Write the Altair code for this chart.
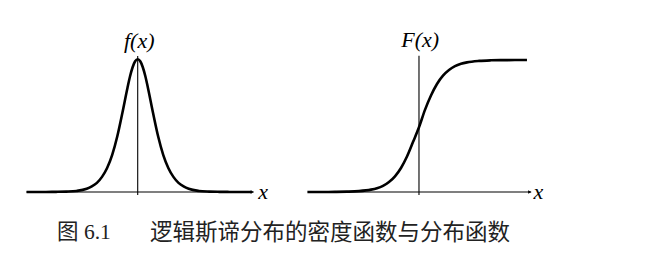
import altair as alt
import pandas as pd

# ---- data ----
pdf_x = [-10.9, -10, -9, -8, -7, -6, -5, -4.5, -4, -3.5, -3, -2.5, -2, -1.5, -1, -0.75, -0.5, -0.25,
         0, 0.25, 0.5, 0.75, 1, 1.5, 2, 2.5, 3, 3.5, 4, 4.5, 5, 6, 7, 8, 9, 10, 11.2]
pdf_y = [0.0001, 0.0002, 0.0005, 0.0012, 0.003, 0.008, 0.024, 0.042, 0.069, 0.114, 0.181, 0.280,
         0.420, 0.597, 0.786, 0.872, 0.940, 0.985,
         1.0, 0.985, 0.940, 0.872, 0.786, 0.597, 0.420, 0.280, 0.181, 0.114, 0.069, 0.042, 0.024,
         0.008, 0.003, 0.0012, 0.0005, 0.0002, 0.0001]

cdf_x = [-9.3, -8, -7, -6, -5, -4, -3.5, -3, -2.5, -2, -1.5, -1, -0.5, 0, 0.5, 1, 1.5, 2, 2.5, 3,
         3.5, 4, 5, 6, 7, 8, 9]
cdf_y = [0.0001, 0.0003, 0.0009, 0.0025, 0.0067, 0.018, 0.029, 0.047, 0.076, 0.119, 0.182, 0.269,
         0.378, 0.49, 0.622, 0.731, 0.818, 0.881, 0.924, 0.953, 0.971, 0.982, 0.993, 0.9975, 0.999,
         0.9997, 0.9999]

left_axis_x = [-10.9, 11.35]   # horizontal axis extent (left panel)
left_axis_v = [-0.023, 1.025]  # vertical axis extent (left panel)
right_axis_x = [-9.25, 9.35]
right_axis_v = [-0.023, 1.033]

left_labels = ["f(x)", "x"]
right_labels = ["F(x)", "x"]
caption_num = "图 6.1"
caption_text = "逻辑斯谛分布的密度函数与分布函数"

SERIF = "Liberation Serif"
CJK = "'Liberation Serif', 'Noto Sans CJK SC'"


def panel(xs, ys, ax_x, ax_v, labels, xdom, ydom, label_pos):
    xs_ = alt.Scale(domain=xdom, nice=False, zero=False)
    ys_ = alt.Scale(domain=ydom, nice=False, zero=False)
    X = lambda f: alt.X(f, type="quantitative", scale=xs_, axis=None)
    Y = lambda f: alt.Y(f, type="quantitative", scale=ys_, axis=None)

    curve = alt.Chart(pd.DataFrame({"x": xs, "y": ys})).mark_line(
        color="black", strokeWidth=2.6, interpolate="monotone"
    ).encode(x=X("x"), y=Y("y"))

    haxis = alt.Chart(pd.DataFrame({"x": [ax_x[0]], "x2": [ax_x[1]], "y": [0]})).mark_rule(
        color="black", strokeWidth=1.1
    ).encode(x=X("x"), x2="x2", y=Y("y"))

    vaxis = alt.Chart(pd.DataFrame({"x": [0], "y": [ax_v[0]], "y2": [ax_v[1]]})).mark_rule(
        color="black", strokeWidth=1.1
    ).encode(x=X("x"), y=Y("y"), y2="y2")

    arrow = alt.Chart(pd.DataFrame({"x": [ax_x[1] - 0.12], "y": [0]})).mark_point(
        shape="triangle-right", filled=True, color="black", size=14, opacity=1
    ).encode(x=X("x"), y=Y("y"))

    (fx, fy), (xx, xy) = label_pos
    lab_top = alt.Chart(pd.DataFrame({"x": [fx], "y": [fy], "t": [labels[0]]})).mark_text(
        font=SERIF, fontSize=22, fontStyle="italic", align="center", baseline="alphabetic",
        color="black"
    ).encode(x=X("x"), y=Y("y"), text="t:N")

    lab_x = alt.Chart(pd.DataFrame({"x": [xx], "y": [xy], "t": [labels[1]]})).mark_text(
        font=SERIF, fontSize=22, fontStyle="italic", align="center", baseline="middle",
        color="black"
    ).encode(x=X("x"), y=Y("y"), text="t:N")

    return alt.layer(haxis, vaxis, arrow, curve, lab_top, lab_x).properties(width=290, height=205)


left = panel(pdf_x, pdf_y, left_axis_x, left_axis_v, left_labels,
             [-13.5, 14.93], [-0.098, 1.447], ((0.15, 1.085), (12.3, 0.0)))
right = panel(cdf_x, cdf_y, right_axis_x, right_axis_v, right_labels,
              [-10.75, 13.42], [-0.0985, 1.4545], ((0.1, 1.10), (9.95, 0.0)))

cap = pd.DataFrame({"a": [caption_num], "b": [caption_text]})
cap1 = alt.Chart(cap).mark_text(
    font=CJK, fontSize=21.5, align="left", baseline="middle", color="#222"
).encode(x=alt.value(57), y=alt.value(28), text="a:N")
cap2 = alt.Chart(cap).mark_text(
    font=CJK, fontSize=22.5, align="left", baseline="middle", color="#222"
).encode(x=alt.value(150), y=alt.value(28), text="b:N")
caption = alt.layer(cap1, cap2).properties(width=665, height=57)

chart = alt.vconcat(
    alt.hconcat(left, right, spacing=0, bounds="flush"),
    caption,
    spacing=0,
).properties(
    padding=0,
    background="white",
).configure_view(stroke=None)

chart.save("out.html", embed_options={"renderer": "svg", "actions": False})
